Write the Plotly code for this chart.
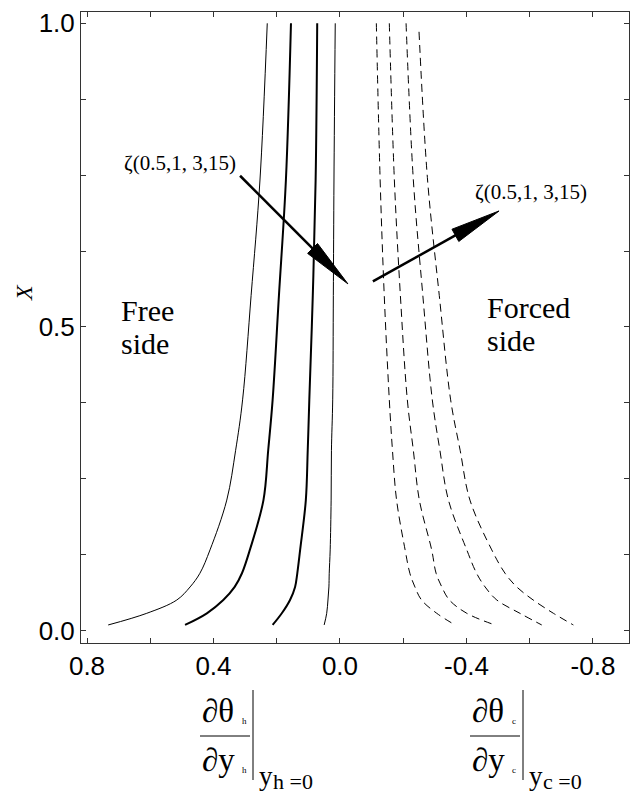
import plotly.graph_objects as go

# ---------------- data ----------------
y_pts = [1.0, 0.742, 0.552, 0.38, 0.297, 0.215, 0.133, 0.0945, 0.072, 0.0505, 0.0286, 0.0094]
y_pts_d4 = [0.986, 0.742, 0.552, 0.38, 0.297, 0.215, 0.133, 0.0945, 0.072, 0.0505, 0.0286, 0.0094]

free_1 = [0.23, 0.253, 0.281, 0.308, 0.330, 0.358, 0.411, 0.443, 0.474, 0.516, 0.611, 0.733]
free_2 = [0.155, 0.171, 0.193, 0.213, 0.227, 0.242, 0.285, 0.31, 0.333, 0.369, 0.421, 0.49]
free_3 = [0.072, 0.077, 0.086, 0.097, 0.102, 0.108, 0.126, 0.135, 0.142, 0.158, 0.184, 0.213]
free_4 = [0.015, 0.019, 0.021, 0.023, 0.027, 0.028, 0.031, 0.034, 0.035, 0.038, 0.042, 0.05]

forced_1 = [-0.115, -0.127, -0.14, -0.156, -0.166, -0.179, -0.206, -0.221, -0.237, -0.258, -0.306, -0.364]
forced_2 = [-0.156, -0.172, -0.191, -0.213, -0.232, -0.251, -0.29, -0.304, -0.322, -0.346, -0.401, -0.49]
forced_3 = [-0.209, -0.232, -0.262, -0.292, -0.316, -0.343, -0.401, -0.432, -0.459, -0.496, -0.569, -0.638]
forced_4 = [-0.25, -0.277, -0.314, -0.35, -0.38, -0.411, -0.48, -0.522, -0.559, -0.611, -0.675, -0.738]

x_tickvals = [0.8, 0.6, 0.4, 0.2, 0.0, -0.2, -0.4, -0.6, -0.8]
x_ticktext = ["0.8", "", "0.4", "", "0.0", "", "-0.4", "", "-0.8"]
y_tickvals = [0.0, 0.125, 0.25, 0.375, 0.5, 0.625, 0.75, 0.875, 1.0]
y_ticktext = ["0.0", "", "", "", "0.5", "", "", "", "1.0"]

zeta_label = "ζ(0.5,1, 3,15)"

# ---------------- geometry ----------------
W, H = 631, 795
PL, PT, PW, PH = 81, 12, 548, 631
XR = [0.819, -0.914]
YR = [-0.0203, 1.0186]

SERIF = "Liberation Serif"
SANS = "Liberation Sans"


def d2p(x, y):
    px = PL + (x - XR[0]) / (XR[1] - XR[0]) * PW
    py = PT + PH - (y - YR[0]) / (YR[1] - YR[0]) * PH
    return px, py


def p2d(px, py):
    x = XR[0] + (px - PL) / PW * (XR[1] - XR[0])
    y = YR[0] + (PT + PH - py) / PH * (YR[1] - YR[0])
    return x, y


def pp(px, py):
    return (px - PL) / PW, 1 - (py - PT) / PH


fig = go.Figure()

thin, thick = 1.0, 2.0
for xs, w in [(free_1, thin), (free_2, thick), (free_3, thick), (free_4, thin)]:
    fig.add_trace(go.Scatter(x=xs, y=y_pts, mode="lines",
                             line=dict(color="black", width=w, shape="spline", smoothing=1.0),
                             showlegend=False, hoverinfo="skip"))
for xs, ys in [(forced_1, y_pts), (forced_2, y_pts), (forced_3, y_pts), (forced_4, y_pts_d4)]:
    fig.add_trace(go.Scatter(x=xs, y=ys, mode="lines",
                             line=dict(color="black", width=1, dash="8px,5px", shape="spline", smoothing=1.0),
                             showlegend=False, hoverinfo="skip"))

shapes = []
annotations = []


def arrow(tail, tip, head_len=50, head_w=14, lw=2.5):
    tx, ty = d2p(*tail)
    hx, hy = d2p(*tip)
    dx, dy = hx - tx, hy - ty
    L = (dx * dx + dy * dy) ** 0.5
    ux, uy = dx / L, dy / L
    bx, by = hx - ux * head_len, hy - uy * head_len
    nx, ny = -uy, ux
    c1 = p2d(bx + nx * head_w / 2, by + ny * head_w / 2)
    c2 = p2d(bx - nx * head_w / 2, by - ny * head_w / 2)
    b = p2d(bx + ux * 2, by + uy * 2)
    shapes.append(dict(type="line", xref="x", yref="y", x0=tail[0], y0=tail[1], x1=b[0], y1=b[1],
                       line=dict(color="black", width=lw)))
    path = f"M{tip[0]},{tip[1]} L{c1[0]},{c1[1]} L{c2[0]},{c2[1]} Z"
    shapes.append(dict(type="path", xref="x", yref="y", path=path,
                       fillcolor="black", line=dict(color="black", width=1)))


arrow((0.316, 0.749), (-0.025, 0.571))
arrow((-0.104, 0.575), (-0.503, 0.691))


def text(px, py, s, size, family=SERIF, xanchor="center", yanchor="middle", angle=0):
    x, y = pp(px, py)
    annotations.append(dict(xref="paper", yref="paper", x=x, y=y, text=s, showarrow=False,
                            xanchor=xanchor, yanchor=yanchor, textangle=angle,
                            font=dict(family=family, size=size, color="black")))


# zeta labels
text(179.5, 163, zeta_label, 21)
text(530.5, 192, zeta_label, 21)
# side labels
text(119, 310, "Free", 30, xanchor="left")
text(119, 343, "side", 30, xanchor="left")
text(485, 307, "Forced", 30, xanchor="left")
text(485, 340, "side", 30, xanchor="left")
# y axis title
text(24, 293, "<i>X</i>", 24, angle=-90)

# x-axis fraction labels
for cx, sub in [(225, "h"), (495, "c")]:
    text(cx - 25, 711, "∂θ", 33, xanchor="left")
    text(cx + 19, 721, sub, 9)
    text(cx - 25, 760, "∂y", 33, xanchor="left")
    text(cx + 19, 770, sub, 9)
    x0, y0 = pp(cx - 25, 736)
    x1, _ = pp(cx + 25, 736)
    shapes.append(dict(type="line", xref="paper", yref="paper", x0=x0, x1=x1, y0=y0, y1=y0,
                       line=dict(color="black", width=1)))
    vx, vy0 = pp(cx + 28, 690)
    _, vy1 = pp(cx + 28, 780)
    shapes.append(dict(type="line", xref="paper", yref="paper", x0=vx, x1=vx, y0=vy0, y1=vy1,
                       line=dict(color="black", width=1)))
    text(cx + 32, 776, "y", 27, xanchor="left")
    text(cx + 46, 781, f"{sub} =0", 22, xanchor="left")

axis_common = dict(showline=True, linecolor="#333333", linewidth=1, mirror="ticks",
                   ticks="inside", ticklen=5, tickcolor="#333333", tickwidth=1,
                   showgrid=False, zeroline=False, automargin=False,
                   tickfont=dict(family=SANS, size=26, color="black"))

fig.update_layout(
    width=W, height=H,
    margin=dict(l=PL, r=W - PL - PW, t=PT, b=H - PT - PH, pad=0),
    paper_bgcolor="white", plot_bgcolor="white",
    xaxis=dict(range=XR, tickmode="array", tickvals=x_tickvals, ticktext=x_ticktext, **axis_common),
    yaxis=dict(range=YR, tickmode="array", tickvals=y_tickvals, ticktext=y_ticktext, **axis_common),
    shapes=shapes, annotations=annotations, showlegend=False,
)

fig.write_html("out.html", config={"displayModeBar": False},
               post_script="document.body.style.margin='0';document.body.style.padding='0';")
